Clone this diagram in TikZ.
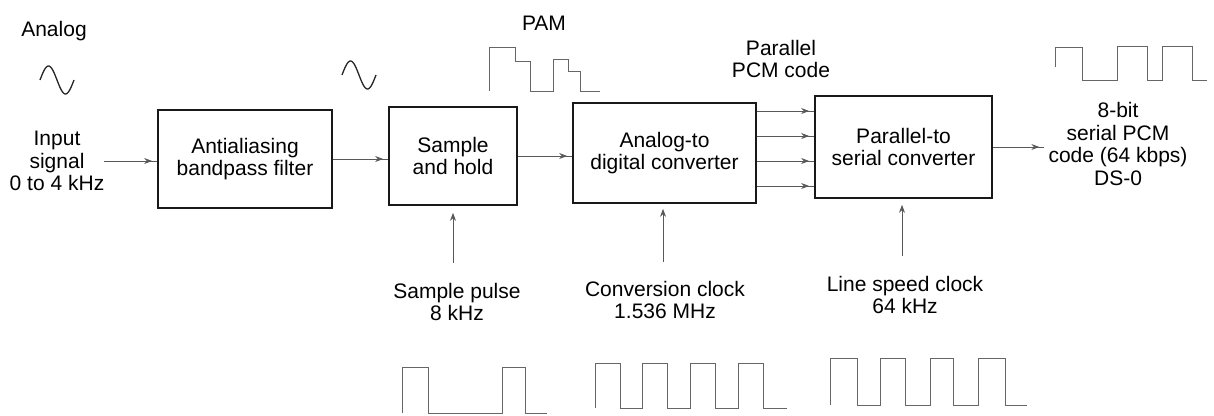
\documentclass[tikz,border=0pt]{standalone}
\usepackage{fontspec}
\setmainfont{Liberation Sans}
\usetikzlibrary{arrows.meta,decorations.markings,calc}
\begin{document}
\begin{tikzpicture}[x=1pt,y=-1pt,
  every node/.style={font=\fontsize{21}{22.5}\selectfont, align=center, inner sep=0pt, text=black},
  blk/.style={draw=black!90, line width=1.7pt, inner sep=0pt},
  conn/.style={draw=black!65, line width=0.9pt, postaction={decorate},
    decoration={markings, mark=at position -5pt with {\arrow[black!65]{Stealth[length=8pt,width=6pt]}}}},
  vconn/.style={draw=black!65, line width=0.9pt, -{Stealth[length=8pt,width=6pt]}},
  wave/.style={draw=black!60, line width=0.9pt},
  sine/.style={draw=black!85, line width=1.3pt}]
\useasboundingbox (0,0) rectangle (1214,415);

% blocks
\node[blk, minimum width=174pt, minimum height=98pt] (b1) at (245,159) {Antialiasing\\bandpass filter};
\node[blk, minimum width=128pt, minimum height=98pt] (b2) at (453,156) {Sample\\and hold};
\node[blk, minimum width=183pt, minimum height=100pt] (b3) at (664.5,153) {Analog-to\\digital converter};
\node[blk, minimum width=177pt, minimum height=102pt] (b4) at (903.5,147) {Parallel-to\\serial converter};

% labels
\node (analog) at (54,31) {Analog};
\node (in) at (57,161) {Input\\signal\\0 to 4 kHz};
\node (pam) at (544,23) {PAM};
\node (ppcm) at (781,59) {Parallel\\PCM code};
\node (out) at (1118,144) {8-bit\\serial PCM\\code (64 kbps)\\DS-0};
\node (sp) at (457,302) {Sample pulse\\8 kHz};
\node (cc) at (665,300) {Conversion clock\\1.536 MHz};
\node (ls) at (905,295) {Line speed clock\\64 kHz};

% horizontal connectors
\draw[conn] (in.east) -- (in.east -| b1.west);
\draw[conn] (b1.east) -- (b1.east -| b2.west);
\draw[conn] (b2.east) -- (b2.east -| b3.west);
\coordinate (p1) at ([yshift=42pt]b3.east);
\coordinate (p2) at ([yshift=17pt]b3.east);
\coordinate (p3) at ([yshift=-8pt]b3.east);
\coordinate (p4) at ([yshift=-33pt]b3.east);
\foreach \p in {p1,p2,p3,p4} \draw[conn] (\p) -- (\p -| b4.west);
\draw[conn] (b4.east) -- ([xshift=-4pt]b4.east -| out.west);

% vertical clock connectors
\coordinate (c1) at (453,263);
\coordinate (c2) at (663,262);
\coordinate (c3) at (902,256);
\draw[vconn, shorten >=7pt] (c1) -- (c1 |- b2.south);
\draw[vconn, shorten >=5pt] (c2) -- (c2 |- b3.south);
\draw[vconn, shorten >=6pt] (c3) -- (c3 |- b4.south);

% sine symbols
\draw[sine] plot[domain=0:360,samples=50] ({40+\x/360*34},{80-14*sin(\x)});
\draw[sine] plot[domain=0:360,samples=50] ({342+\x/360*34},{75-14*sin(\x)});

% PAM waveform
\draw[wave] (489,91) -- (489,47) -- (515,47) -- (515,61) -- (530,61) -- (530,91) -- (553,91) -- (553,59) -- (568,59) -- (568,71) -- (580,71) -- (580,91) -- (600,91);
% serial PCM waveform
\draw[wave] (1055,67) -- (1055,47) -- (1082,47) -- (1082,80) -- (1117,80) -- (1117,46) -- (1147,46) -- (1147,80) -- (1162,80) -- (1162,46) -- (1192,46) -- (1192,80) -- (1207,80);
% sample pulse
\draw[wave] (402,413) -- (402,367) -- (428,367) -- (428,413) -- (502,413) -- (502,367) -- (525,367) -- (525,413) -- (547,413);
% conversion clock
\draw[wave] (595,408) -- (595,363) -- (620,363) -- (620,408) -- (642,408) -- (642,363) -- (667,363) -- (667,408) -- (690,408) -- (690,363) -- (715,363) -- (715,408) -- (738,408) -- (738,363) -- (763,363) -- (763,408) -- (787,408);
% line speed clock
\draw[wave] (830,405) -- (830,358) -- (857,358) -- (857,405) -- (880,405) -- (880,358) -- (905,358) -- (905,405) -- (930,405) -- (930,358) -- (953,358) -- (953,405) -- (978,405) -- (978,358) -- (1005,358) -- (1005,405) -- (1027,405);
\end{tikzpicture}
\end{document}
